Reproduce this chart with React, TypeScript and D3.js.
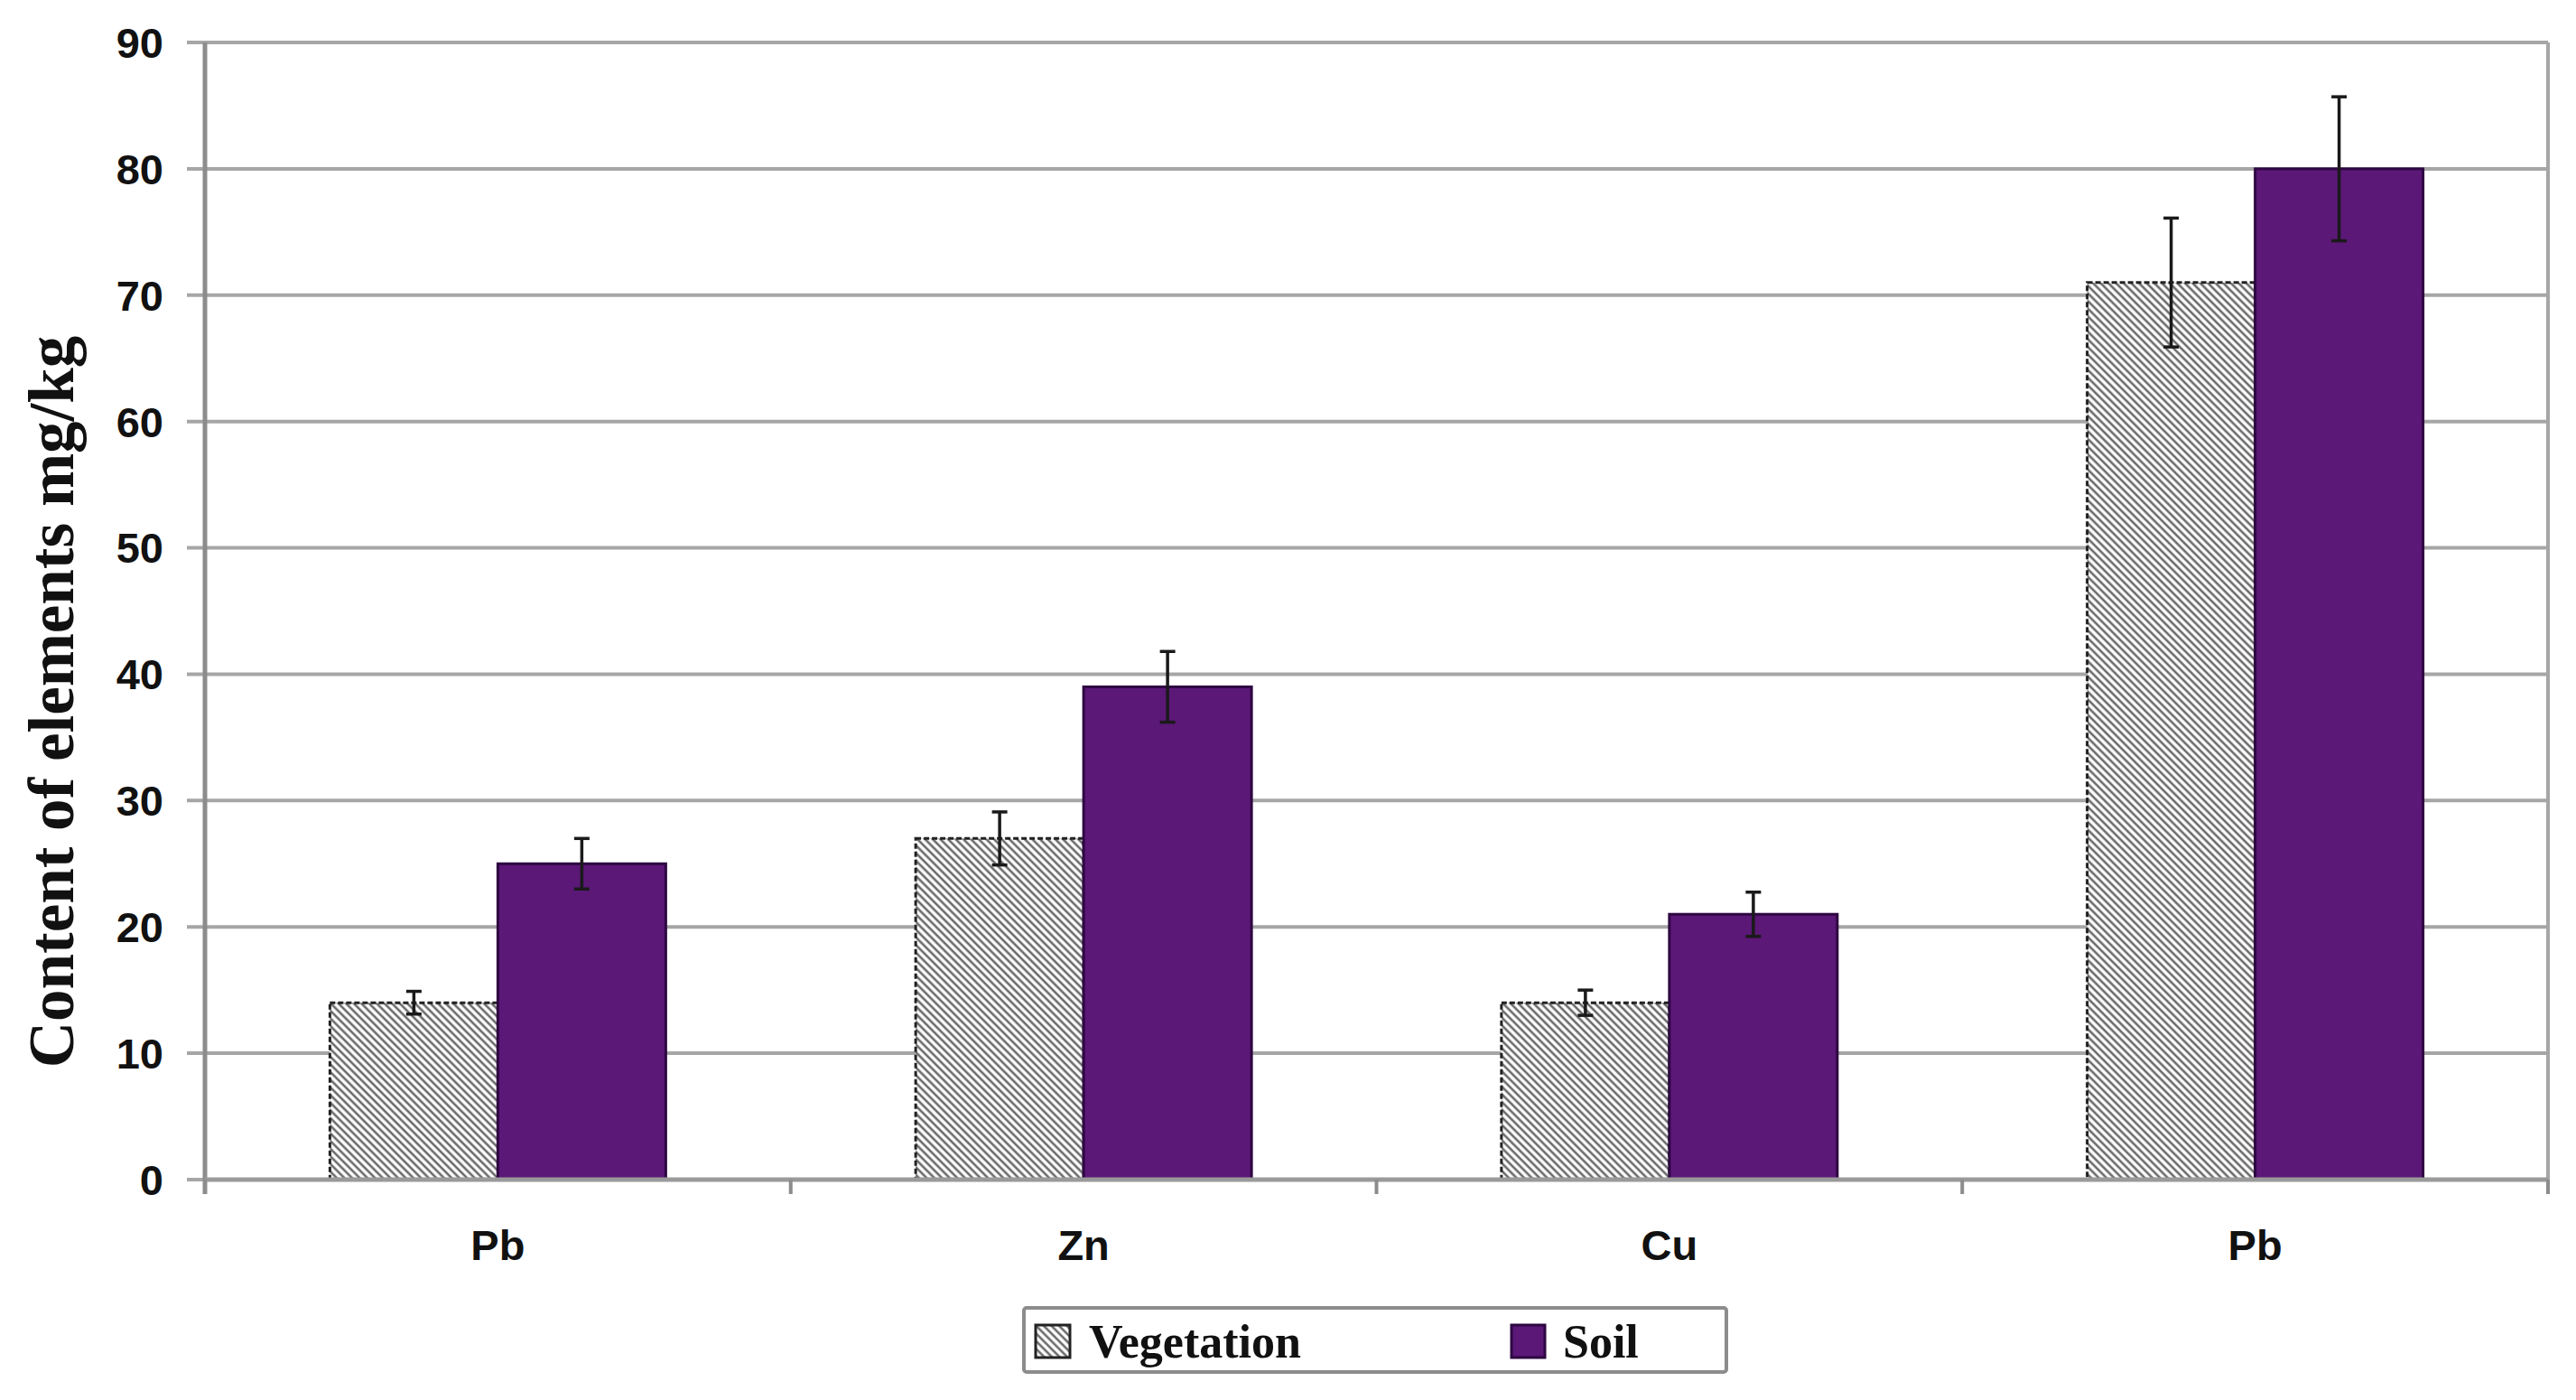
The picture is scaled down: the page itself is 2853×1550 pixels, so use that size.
import React from "react";
import * as d3 from "d3";

const categories = ["Pb", "Zn", "Cu", "Pb"];
const seriesNames = ["Vegetation", "Soil"];
const vegetation = [14, 27, 14, 71];
const vegetationErr = [0.9, 2.1, 1.0, 5.1];
const soil = [25, 39, 21, 80];
const soilErr = [2.0, 2.8, 1.75, 5.7];
const yTicks = [0, 10, 20, 30, 40, 50, 60, 70, 80, 90];

const W = 2853;
const H = 1550;
const left = 227;
const right = 2822;
const top = 47;
const bottom = 1306;

const SOIL = "#5b1877";
const SOIL_STROKE = "#2e0742";
const GRID = "#a6a6a6";

export default function App() {
  const x0 = d3.scaleBand<number>().domain(d3.range(categories.length)).range([left, right]).paddingInner(0).paddingOuter(0);
  const x1 = d3.scaleBand<string>().domain(seriesNames).range([0, x0.bandwidth()]).paddingInner(0).paddingOuter(0.744);
  const y = d3.scaleLinear().domain([0, 90]).range([bottom, top]);

  const data = categories.map((c, i) => ({
    i,
    c,
    vals: [
      { s: "Vegetation", v: vegetation[i], e: vegetationErr[i] },
      { s: "Soil", v: soil[i], e: soilErr[i] },
    ],
  }));

  const boundaries = d3.range(categories.length + 1).map((i) => left + i * x0.step());
  const capW = 17;

  return (
    <div style={{ position: "fixed", left: 0, top: 0, width: W, height: H, background: "#fff" }}>
      <svg width={W} height={H} viewBox={`0 0 ${W} ${H}`}>
        <defs>
          <pattern id="hatch" patternUnits="userSpaceOnUse" width="6" height="6" patternTransform="rotate(-45)">
            <rect x="0" y="0" width="6" height="6" fill="#fbfbfb" />
            <line x1="1.5" y1="0" x2="1.5" y2="6" stroke="#5c5c5c" strokeWidth="2.3" />
          </pattern>
        </defs>
        <rect x={0} y={0} width={W} height={H} fill="#fff" />

        {/* gridlines with left ticks */}
        {yTicks.map((t) => (
          <line key={"g" + t} x1={left - 20} x2={right} y1={y(t)} y2={y(t)} stroke={GRID} strokeWidth={4} />
        ))}
        {/* right border */}
        <line x1={right} x2={right} y1={top} y2={bottom + 16} stroke={GRID} strokeWidth={4} />

        {/* bars */}
        {data.map((d) =>
          d.vals.map((b) => {
            const bx = (x0(d.i) as number) + (x1(b.s) as number);
            const bw = x1.bandwidth();
            const isVeg = b.s === "Vegetation";
            return (
              <rect
                key={d.i + b.s}
                x={bx}
                y={y(b.v)}
                width={bw}
                height={y(0) - y(b.v)}
                fill={isVeg ? "url(#hatch)" : SOIL}
                stroke={isVeg ? "#222" : SOIL_STROKE}
                strokeWidth={3}
                strokeDasharray={isVeg ? "6,3" : undefined}
              />
            );
          })
        )}

        {/* error bars */}
        {data.map((d) =>
          d.vals.map((b) => {
            const cx = (x0(d.i) as number) + (x1(b.s) as number) + x1.bandwidth() / 2;
            const yt = y(b.v + b.e);
            const yb = y(b.v - b.e);
            return (
              <g key={"e" + d.i + b.s} stroke="#1a1a1a" strokeWidth={3.5}>
                <line x1={cx} x2={cx} y1={yt} y2={yb} />
                <line x1={cx - capW / 2} x2={cx + capW / 2} y1={yt} y2={yt} />
                <line x1={cx - capW / 2} x2={cx + capW / 2} y1={yb} y2={yb} />
              </g>
            );
          })
        )}

        {/* axes */}
        <line x1={left} x2={left} y1={top} y2={bottom + 16} stroke="#8c8c8c" strokeWidth={5} />
        <line x1={left} x2={right} y1={bottom} y2={bottom} stroke="#9a9a9a" strokeWidth={5} />
        {boundaries.map((bx, i) => (
          <line key={"xt" + i} x1={bx} x2={bx} y1={bottom} y2={bottom + 16} stroke="#8c8c8c" strokeWidth={4} />
        ))}

        {/* y tick labels */}
        {yTicks.map((t) => (
          <text
            key={"yl" + t}
            x={181}
            y={y(t)}
            dy="0.36em"
            textAnchor="end"
            fontFamily="'Liberation Sans', Arial, sans-serif"
            fontWeight="bold"
            fontSize={47}
            fill="#111"
          >
            {t}
          </text>
        ))}

        {/* x labels */}
        {categories.map((c, i) => (
          <text
            key={"xl" + i}
            x={(x0(i) as number) + x0.bandwidth() / 2}
            y={1395}
            textAnchor="middle"
            fontFamily="'Liberation Sans', Arial, sans-serif"
            fontWeight="bold"
            fontSize={47}
            fill="#111"
          >
            {c}
          </text>
        ))}

        {/* y title */}
        <text
          transform="translate(81,777) rotate(-90)"
          textAnchor="middle"
          fontFamily="'Liberation Serif', 'Times New Roman', serif"
          fontWeight="bold"
          fontSize={71}
          fill="#111"
        >
          Content of elements mg/kg
        </text>

        {/* legend */}
        <rect x={1134} y={1448} width={778} height={71} fill="#fff" stroke="#8c8c8c" strokeWidth={4} rx={3} />
        <rect x={1147} y={1467} width={38} height={36} fill="url(#hatch)" stroke="#222" strokeWidth={3} />
        <text x={1206} y={1503} fontFamily="'Liberation Serif', 'Times New Roman', serif" fontWeight="bold" fontSize={52} fill="#111">
          {seriesNames[0]}
        </text>
        <rect x={1674} y={1467} width={37} height={36} fill={SOIL} stroke={SOIL_STROKE} strokeWidth={3} />
        <text x={1731} y={1503} fontFamily="'Liberation Serif', 'Times New Roman', serif" fontWeight="bold" fontSize={52} fill="#111">
          {seriesNames[1]}
        </text>
      </svg>
    </div>
  );
}
